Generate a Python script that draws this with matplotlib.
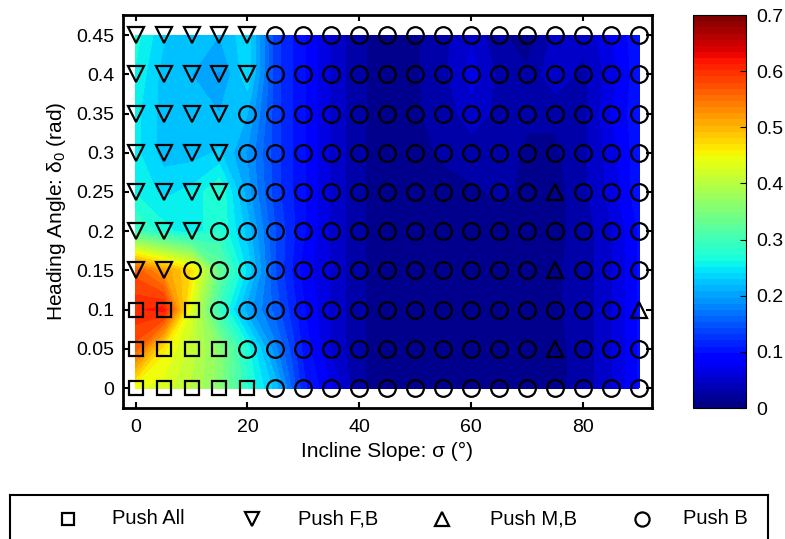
import numpy as np
import matplotlib
matplotlib.use('Agg')
import matplotlib.pyplot as plt

plt.rcParams['font.family'] = ['Liberation Sans', 'DejaVu Sans']
plt.rcParams['mathtext.fontset'] = 'custom'
plt.rcParams['mathtext.rm'] = 'Liberation Sans'
plt.rcParams['mathtext.it'] = 'Liberation Sans'

# incline slope (deg) and heading angle (rad) grids
slope = [0, 5, 10, 15, 20, 25, 30, 35, 40, 45, 50, 55, 60, 65, 70, 75, 80, 85, 90]
heading = [0, 0.05, 0.1, 0.15, 0.2, 0.25, 0.3, 0.35, 0.4, 0.45]

# cost surface, one row per heading angle
cost_000 = [0.44, 0.43, 0.40, 0.36, 0.28, 0.22, 0.11, 0.07, 0.02, 0.008, 0.006, 0.006, 0.006, 0.006, 0.008, 0.012, 0.025, 0.05, 0.09]
cost_005 = [0.57, 0.46, 0.41, 0.36, 0.27, 0.18, 0.10, 0.05, 0.02, 0.008, 0.006, 0.006, 0.006, 0.006, 0.008, 0.012, 0.025, 0.05, 0.09]
cost_010 = [0.61, 0.62, 0.43, 0.29, 0.20, 0.15, 0.09, 0.05, 0.02, 0.008, 0.006, 0.006, 0.006, 0.008, 0.012, 0.015, 0.025, 0.05, 0.09]
cost_015 = [0.57, 0.52, 0.47, 0.33, 0.24, 0.14, 0.08, 0.05, 0.02, 0.008, 0.006, 0.006, 0.008, 0.008, 0.012, 0.015, 0.025, 0.05, 0.09]
cost_020 = [0.30, 0.27, 0.25, 0.28, 0.22, 0.14, 0.09, 0.05, 0.02, 0.008, 0.006, 0.008, 0.008, 0.012, 0.012, 0.012, 0.025, 0.05, 0.09]
cost_025 = [0.26, 0.24, 0.25, 0.28, 0.20, 0.13, 0.09, 0.05, 0.02, 0.008, 0.008, 0.012, 0.015, 0.02, 0.015, 0.01, 0.03, 0.06, 0.10]
cost_030 = [0.25, 0.22, 0.22, 0.23, 0.19, 0.13, 0.09, 0.05, 0.02, 0.008, 0.012, 0.02, 0.025, 0.025, 0.015, 0.015, 0.03, 0.06, 0.10]
cost_035 = [0.25, 0.22, 0.21, 0.21, 0.21, 0.13, 0.09, 0.05, 0.02, 0.01, 0.015, 0.025, 0.045, 0.03, 0.02, 0.02, 0.03, 0.07, 0.10]
cost_040 = [0.26, 0.22, 0.21, 0.19, 0.24, 0.13, 0.09, 0.05, 0.02, 0.01, 0.015, 0.03, 0.06, 0.03, 0.02, 0.05, 0.03, 0.06, 0.10]
cost_045 = [0.27, 0.23, 0.22, 0.21, 0.24, 0.13, 0.09, 0.05, 0.02, 0.01, 0.015, 0.03, 0.05, 0.02, 0.01, 0.04, 0.04, 0.07, 0.10]

# best strategy per grid point: A = Push All, F = Push F,B, M = Push M,B, B = Push B
strat_000 = 'AAAAABBBBBBBBBBBBBB'
strat_005 = 'AAAABBBBBBBBBBBMBBB'
strat_010 = 'AAABBBBBBBBBBBBBBBM'
strat_015 = 'FFBBBBBBBBBBBBBMBBB'
strat_020 = 'FFFBBBBBBBBBBBBBBBB'
strat_025 = 'FFFFBBBBBBBBBBBMBBB'
strat_030 = 'FFFFBBBBBBBBBBBBBBB'
strat_035 = 'FFFFBBBBBBBBBBBBBBB'
strat_040 = 'FFFFFBBBBBBBBBBBBBB'
strat_045 = 'FFFFFBBBBBBBBBBBBBB'

cost = np.array([cost_000, cost_005, cost_010, cost_015, cost_020,
                 cost_025, cost_030, cost_035, cost_040, cost_045])
strat = [strat_000, strat_005, strat_010, strat_015, strat_020,
         strat_025, strat_030, strat_035, strat_040, strat_045]

# marker, size, legend label, legend marker x, legend text x (pixels)
styles = {
    'A': ('s', 10, 'Push All', 68, 112),
    'F': ('v', 12, 'Push F,B', 252, 298),
    'M': ('^', 12, 'Push M,B', 442, 490),
    'B': ('o', 12, 'Push B', 642, 683),
}

fig = plt.figure(figsize=(7.85, 5.39), dpi=100)
ax = fig.add_axes([0.1563, 0.243, 0.6743, 0.729])
cax = fig.add_axes([0.883, 0.243, 0.0675, 0.729])

X, Y = np.meshgrid(slope, heading)
ax.contourf(X, Y, cost, levels=np.linspace(0, 0.7, 41), cmap='jet', vmin=0, vmax=0.7)

for key, (mk, ms, lab, lx, tx) in styles.items():
    xs, ys = [], []
    for i, row in enumerate(strat):
        for j, c in enumerate(row):
            if c == key:
                xs.append(slope[j])
                ys.append(heading[i])
    ax.plot(xs, ys, linestyle='none', marker=mk, markersize=ms,
            markerfacecolor='none', markeredgecolor='black',
            markeredgewidth=1.6, clip_on=False)

ax.set_xlim(-2.3, 92.3)
ax.set_ylim(-0.0255, 0.4755)
ax.set_xticks([0, 20, 40, 60, 80])
ax.set_yticks(heading)
ax.set_yticklabels(['0', '0.05', '0.1', '0.15', '0.2', '0.25', '0.3', '0.35', '0.4', '0.45'])
ax.tick_params(direction='in', top=True, right=True, length=4, width=1.5,
               labelsize=14)
ax.tick_params(axis='x', pad=8)
ax.tick_params(axis='y', pad=6)
for sp in ax.spines.values():
    sp.set_linewidth(2)
ax.set_xlabel('Incline Slope: σ (°)', fontsize=15, labelpad=4)
ax.set_ylabel(r'Heading Angle: $\mathregular{\delta_0}$ (rad)', fontsize=15, labelpad=6)

sm = plt.cm.ScalarMappable(cmap=plt.get_cmap('jet', 64), norm=plt.Normalize(0, 0.7))
cb = fig.colorbar(sm, cax=cax)
cb.set_ticks([0, 0.1, 0.2, 0.3, 0.4, 0.5, 0.6, 0.7])
cb.set_ticklabels(['0', '0.1', '0.2', '0.3', '0.4', '0.5', '0.6', '0.7'])
cax.tick_params(direction='in', length=4, labelsize=14, pad=7)
cb.outline.set_linewidth(0.8)

# strategy legend in a framed strip along the bottom, laid out in pixels
lax = fig.add_axes([10 / 785, -0.05, 758 / 785, 0.0816 + 0.05])
lax.set_xlim(10, 768)
lax.set_ylim(566, 495)
lax.set_xticks([])
lax.set_yticks([])
for sp in lax.spines.values():
    sp.set_linewidth(1.5)
for key, (mk, ms, lab, lx, tx) in styles.items():
    lax.plot([lx], [519], linestyle='none', marker=mk, markersize=ms * 0.85,
             markerfacecolor='none', markeredgecolor='black', markeredgewidth=1.6)
    lax.text(tx, 519, lab, fontsize=14.5, va='center', ha='left')

fig.savefig('out.png', dpi=100)
